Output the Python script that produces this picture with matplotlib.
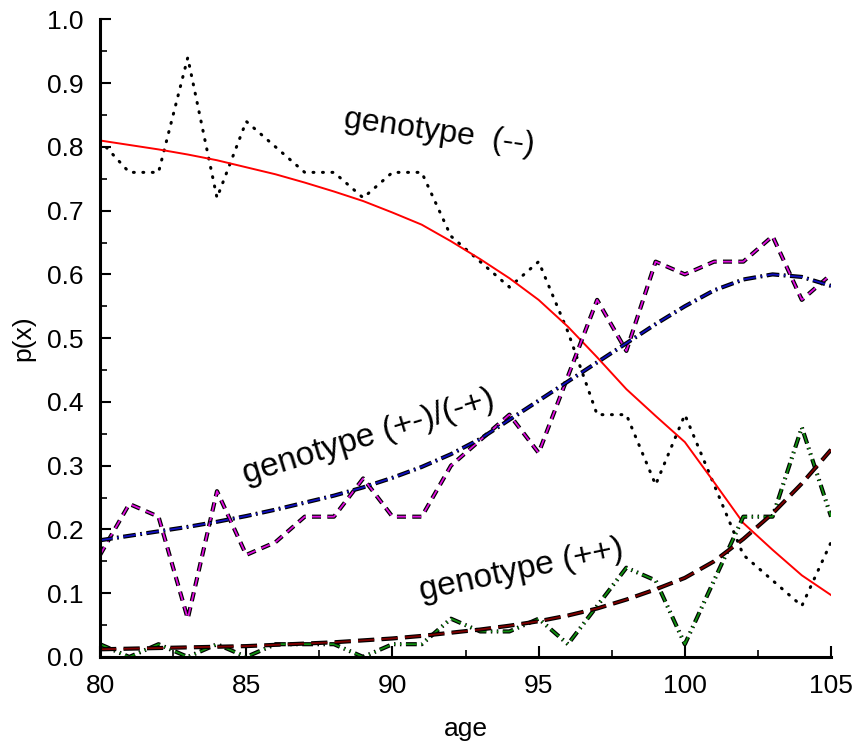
import matplotlib
matplotlib.use('Agg')
from matplotlib import pyplot as plt
from matplotlib import patheffects as pe
import numpy as np

plt.rcParams['font.family'] = ['Liberation Sans', 'DejaVu Sans']

ages = np.arange(80, 106)

# genotype (--): observed and fitted
mm_obs = [0.81, 0.76, 0.76, 0.94, 0.72, 0.84, 0.80, 0.76, 0.76, 0.72, 0.76, 0.76, 0.66,
          0.62, 0.58, 0.62, 0.51, 0.38, 0.38, 0.27, 0.38, 0.27, 0.16, 0.12, 0.08, 0.18]
mm_fit = [0.810, 0.803, 0.796, 0.788, 0.779, 0.768, 0.757, 0.744, 0.730, 0.715, 0.697, 0.678, 0.652,
          0.624, 0.594, 0.560, 0.518, 0.470, 0.420, 0.378, 0.337, 0.274, 0.210, 0.168, 0.128, 0.097]

# genotype (+-)/(-+): observed and fitted
pm_obs = [0.16, 0.24, 0.22, 0.06, 0.26, 0.16, 0.18, 0.22, 0.22, 0.28, 0.22, 0.22, 0.30,
          0.34, 0.38, 0.32, 0.44, 0.56, 0.48, 0.62, 0.60, 0.62, 0.62, 0.66, 0.56, 0.60]
pm_fit = [0.183, 0.190, 0.197, 0.204, 0.212, 0.221, 0.231, 0.242, 0.253, 0.266, 0.281, 0.298, 0.318,
          0.342, 0.372, 0.402, 0.432, 0.462, 0.492, 0.522, 0.550, 0.575, 0.592, 0.600, 0.596, 0.582]

# genotype (++): observed and fitted
pp_obs = [0.02, 0.00, 0.02, 0.00, 0.02, 0.00, 0.02, 0.02, 0.02, 0.00, 0.02, 0.02, 0.06,
          0.04, 0.04, 0.06, 0.02, 0.08, 0.14, 0.12, 0.02, 0.12, 0.22, 0.22, 0.36, 0.22]
pp_fit = [0.012, 0.013, 0.014, 0.015, 0.016, 0.017, 0.019, 0.021, 0.023, 0.026, 0.029, 0.033, 0.038,
          0.043, 0.049, 0.056, 0.065, 0.076, 0.090, 0.106, 0.124, 0.150, 0.185, 0.225, 0.272, 0.325]


def outlined(w):
    return [pe.Stroke(linewidth=w, foreground='black'), pe.Normal()]


fig = plt.figure(figsize=(8.55, 7.44), dpi=100)
ax = fig.add_axes([0.117, 0.117, 0.855, 0.857])

ax.plot(ages, mm_obs, color='black', lw=2.2, linestyle=(0, (0.3, 2.8)), dash_capstyle='round')
ax.plot(ages, mm_fit, color='red', lw=1.4)

ax.plot(ages, pm_obs, color='#e010e0', lw=1.3, linestyle=(0, (5, 3.5)),
        path_effects=outlined(3.0))
ax.plot(ages, pm_fit, color='#1010c0', lw=1.3, linestyle=(0, (7, 2.5, 1, 2.5)),
        path_effects=outlined(3.0))

ax.plot(ages, pp_obs, color='#109010', lw=1.3, linestyle=(0, (6, 2.5, 0.8, 2.5, 0.8, 2.5)),
        path_effects=outlined(3.0))
ax.plot(ages, pp_fit, color='#800000', lw=1.3, linestyle=(0, (9, 4)),
        path_effects=outlined(3.0))

ax.text(91.6, 0.823, 'genotype  (--)', fontsize=23, rotation=-8, ha='center', va='center')
ax.text(89.2, 0.345, 'genotype (+-)/(-+)', fontsize=24, rotation=17, ha='center', va='center')
ax.text(94.4, 0.136, 'genotype (++)', fontsize=24, rotation=12, ha='center', va='center')

ax.set_xlim(80, 105)
ax.set_ylim(0, 1.0)
ax.set_xticks(np.arange(80, 106, 5))
ax.set_xticks(np.arange(80, 106, 2.5), minor=True)
ax.set_yticks(np.arange(0, 1.01, 0.1))
ax.set_yticks(np.arange(0, 1.01, 0.05), minor=True)
ax.set_yticklabels(['%.1f' % v for v in np.arange(0, 1.01, 0.1)])

for side in ['top', 'right']:
    ax.spines[side].set_visible(False)
for side in ['left', 'bottom']:
    ax.spines[side].set_linewidth(2.2)

ax.tick_params(which='major', direction='in', length=8, width=1.5, labelsize=19, pad=12)
ax.tick_params(which='minor', direction='in', length=5, width=1.2)

ax.set_xlabel('age', fontsize=19, labelpad=14)
ax.set_ylabel('p(x)', fontsize=19, labelpad=8)

fig.savefig('out.png', dpi=100)
